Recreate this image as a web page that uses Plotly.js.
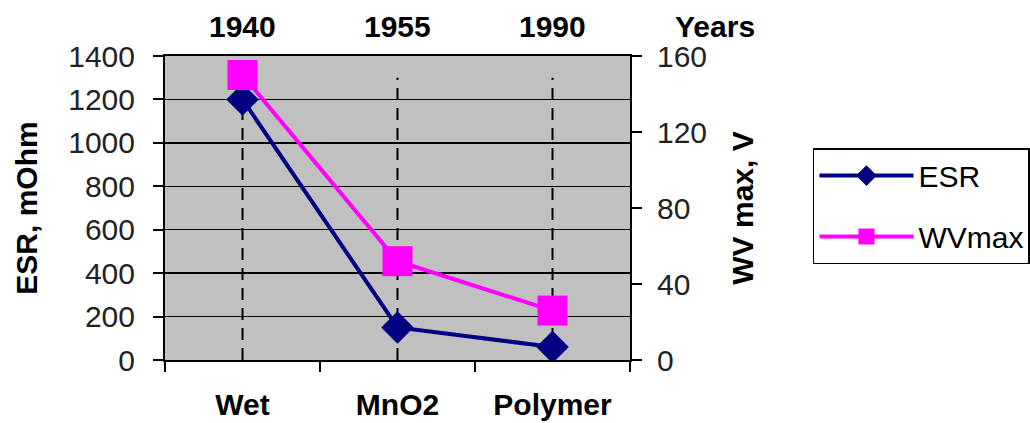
<!DOCTYPE html>
<html>
<head>
<meta charset="utf-8">
<script src="https://cdn.plot.ly/plotly-3.0.1.min.js"></script>
<style>
  html, body { margin: 0; padding: 0; background: #ffffff; }
  #chart { width: 1030px; height: 423px; }
</style>
</head>
<body>
<div id="chart"></div>
<script>
const categories = ['Wet', 'MnO2', 'Polymer'];
const years = ['1940', '1955', '1990'];
const esr = [1200, 150, 60];
const wvmax = [150, 52, 26];
const esrTicks = [0, 200, 400, 600, 800, 1000, 1200, 1400];
const wvTicks = [0, 40, 80, 120, 160];
const dropTop = 1300;

const FONT = 'Liberation Sans, Arial, sans-serif';
const NAVY = '#000080';
const MAGENTA = '#FF00FF';

const traces = [
  {
    x: categories, y: esr, name: 'ESR', type: 'scatter', mode: 'lines+markers',
    xaxis: 'x', yaxis: 'y', legendgroup: 'a',
    line: { color: NAVY, width: 4 },
    marker: { symbol: 'diamond', size: 25, color: NAVY }
  },
  {
    x: categories, y: wvmax, name: 'WVmax', type: 'scatter', mode: 'lines+markers',
    xaxis: 'x', yaxis: 'y2', legendgroup: 'b',
    line: { color: MAGENTA, width: 4 },
    marker: { symbol: 'square', size: 30, color: MAGENTA }
  }
];

const shapes = categories.map(c => ({
  type: 'line', xref: 'x', yref: 'y', x0: c, x1: c, y0: 0, y1: dropTop,
  layer: 'between', line: { color: '#000000', width: 2, dash: '12px,8px' }
}));

const boldFont = { family: FONT, size: 30, color: '#000000', weight: 'bold' };

const annotations = categories.map((c, i) => ({
  text: years[i], xref: 'x', yref: 'paper', x: c, y: 1.097,
  xanchor: 'center', yanchor: 'middle', showarrow: false, font: boldFont
}));
annotations.push({
  text: 'Years', xref: 'paper', yref: 'paper', x: 1.183, y: 1.097,
  xanchor: 'center', yanchor: 'middle', showarrow: false, font: boldFont
});

const layout = {
  width: 1030, height: 423,
  margin: { l: 165, r: 400, t: 56, b: 63, autoexpand: false },
  paper_bgcolor: '#ffffff',
  plot_bgcolor: '#C0C0C0',
  font: { family: FONT, color: '#000000', size: 30 },
  showlegend: true,
  legend: {
    x: 1.3935, y: 0.697, xanchor: 'left', yanchor: 'top',
    bgcolor: '#ffffff', bordercolor: '#000000', borderwidth: 1.5,
    font: { family: FONT, size: 30, color: '#000000' },
    itemwidth: 94, tracegroupgap: 19
  },
  xaxis: {
    type: 'category', categoryorder: 'array', categoryarray: categories,
    range: [-0.5, 2.5], tickson: 'boundaries',
    ticks: 'outside', ticklen: 10, tickwidth: 2, tickcolor: '#000000',
    showline: true, linecolor: '#000000', linewidth: 2, mirror: true,
    showgrid: false, zeroline: false,
    tickfont: boldFont,
    ticklabelstandoff: 17
  },
  yaxis: {
    range: [0, 1400], tickmode: 'array', tickvals: esrTicks,
    ticks: 'outside', ticklen: 10, tickwidth: 2, tickcolor: '#000000',
    showline: true, linecolor: '#000000', linewidth: 2,
    showgrid: true, gridcolor: '#000000', gridwidth: 1.5, zeroline: false,
    tickfont: { family: FONT, size: 30, color: '#222222' },
    ticklabelstandoff: 12,
    title: { text: 'ESR, mOhm', standoff: 22, font: boldFont }
  },
  yaxis2: {
    overlaying: 'y', side: 'right', range: [0, 160], tickmode: 'array', tickvals: wvTicks,
    ticks: 'outside', ticklen: 10, tickwidth: 2, tickcolor: '#000000',
    showline: true, linecolor: '#000000', linewidth: 2,
    showgrid: false, zeroline: false,
    tickfont: { family: FONT, size: 30, color: '#222222' },
    ticklabelstandoff: 9,
    title: { text: 'WV max, V', standoff: 26, font: boldFont }
  },
  yaxis3: {
    overlaying: 'y', side: 'right', range: [0, 160], tickmode: 'array', tickvals: wvTicks,
    ticks: 'inside', ticklen: 10, tickwidth: 2, tickcolor: '#000000',
    showline: false, showgrid: false, zeroline: false, showticklabels: false
  },
  shapes: shapes,
  annotations: annotations
};

Plotly.newPlot('chart', traces, layout, { displayModeBar: false, staticPlot: true });
</script>
</body>
</html>
